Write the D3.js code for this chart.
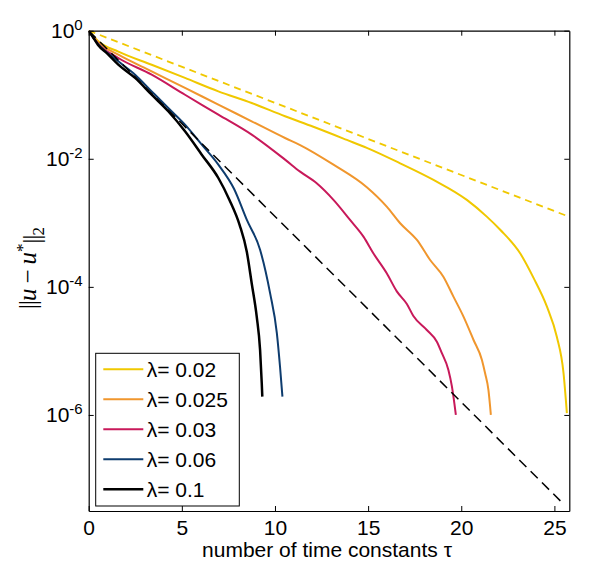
<!DOCTYPE html>
<html>
<head>
<meta charset="utf-8">
<script src="https://cdn.jsdelivr.net/npm/d3@7"></script>
<style>
  body { margin: 0; background: #fff; }
  svg { display: block; }
</style>
</head>
<body>
<svg class="decay" width="600" height="580"></svg>
<script>
// series: time in tau, error norm
const lambdas = ["0.02", "0.025", "0.03", "0.06", "0.1"];
const colors = ["#f0c800", "#f0962d", "#c8195a", "#0e3c6e", "#000000"];

const t002 = [0, 0.5, 1.59, 3.38, 5.17, 6.96, 8.75, 10.54, 12.06, 13.86, 14.93, 16.72, 18.51, 20.3, 21.37, 22.09, 23.16, 23.88, 24.6, 25.13, 25.49, 25.67];
const e002 = [1, 0.69, 0.47, 0.294, 0.183, 0.113, 0.0743, 0.0461, 0.0316, 0.0197, 0.0148, 0.0085, 0.00468, 0.00228, 0.00125, 7.8e-4, 3.35e-4, 1.38e-4, 4.9e-5, 1.66e-5, 4.5e-6, 1.07e-6];

const t0025 = [0, 0.5, 1.59, 3.38, 5.17, 6.96, 8.75, 10.54, 11.35, 13.14, 14.93, 16.0, 16.72, 17.62, 18.33, 19.04, 19.58, 20.12, 20.66, 21.11, 21.28, 21.46, 21.59];
const e0025 = [1, 0.66, 0.422, 0.232, 0.128, 0.07, 0.0385, 0.0211, 0.0164, 0.0081, 0.0036, 0.00179, 9.84e-4, 5.4e-4, 2.63e-4, 1.44e-4, 7.03e-5, 3.43e-5, 1.48e-5, 7.23e-6, 4.47e-6, 2.45e-6, 1.0e-6];

const t003 = [0, 0.5, 1.59, 3.38, 5.17, 6.96, 8.75, 10.54, 11.35, 12.24, 13.14, 14.03, 14.75, 15.28, 16.0, 16.54, 17.08, 17.43, 18.15, 18.69, 18.96, 19.31, 19.5, 19.63, 19.71];
const e003 = [1, 0.63, 0.375, 0.206, 0.1, 0.0489, 0.0238, 0.0097, 0.00629, 0.00414, 0.00228, 0.00111, 6.08e-4, 3.35e-4, 1.63e-4, 8.5e-5, 5.4e-5, 3.5e-5, 2.12e-5, 1.39e-5, 9.2e-6, 5.05e-6, 2.77e-6, 1.52e-6, 1.0e-6];

const t006 = [0, 0.5, 1.59, 2.49, 3.38, 4.27, 5.17, 6.07, 6.96, 7.8, 8.49, 9.2, 9.74, 10.1, 10.27, 10.4];
const e006 = [1, 0.62, 0.333, 0.206, 0.113, 0.0621, 0.0341, 0.0166, 0.0081, 0.0034, 0.00111, 3.8e-4, 7.9e-5, 1.9e-5, 5.7e-6, 1.93e-6];

const t01 = [0, 0.2, 0.5, 1.0, 1.59, 2.49, 3.38, 4.27, 5.17, 6.07, 6.96, 7.55, 8.1, 8.49, 8.75, 9.02, 9.2, 9.29, 9.32];
const e01 = [1, 0.82, 0.6, 0.438, 0.295, 0.183, 0.1, 0.0552, 0.0269, 0.0116, 0.00501, 0.0023, 9.3e-4, 3.5e-4, 1.14e-4, 3.43e-5, 1.04e-5, 3.13e-6, 1.93e-6];

// straight reference lines (dashed)
const refYellowT = [0, 25.8];
const refYellowE = [1, 1.24e-3];
const refBlackT = [0, 25.44];
const refBlackE = [1, 4.2e-8];

const xTicks = [0, 5, 10, 15, 20, 25];
const yTicks = [1, 1e-2, 1e-4, 1e-6];
const yExps = ["0", "-2", "-4", "-6"];

const series = [
  {t: t002, e: e002}, {t: t0025, e: e0025}, {t: t003, e: e003},
  {t: t006, e: e006}, {t: t01, e: e01}
];

const margin = {left: 88.7, top: 30.7, right: 30.7, bottom: 69};
const width = 600 - margin.left - margin.right;
const height = 580 - margin.top - margin.bottom;

const svg = d3.select('svg.decay');
const g = svg.append('g')
  .attr('transform', "translate(" + margin.left + "," + margin.top + ")");

const x = d3.scaleLinear().domain([0, 25.8]).range([0, width]);
const y = d3.scaleLog().domain([Math.pow(10, -7.5), 1]).range([height, 0]);

svg.append('defs').append('clipPath').attr('id', 'plotClip')
  .append('rect').attr('width', width).attr('height', height);

const line = d3.line()
  .x(d => x(d[0]))
  .y(d => y(d[1]))
  .curve(d3.curveMonotoneX);

function pairs(ts, es) {
  return ts.map((t, i) => [t, es[i]]);
}

const plot = g.append('g').attr('clip-path', 'url(#plotClip)');

series.forEach((s, i) => {
  plot.append('path')
    .attr('d', line(pairs(s.t, s.e)))
    .style('fill', 'none')
    .style('stroke', colors[i])
    .style('stroke-width', i === 4 ? 2.5 : 2)
    .style('stroke-linejoin', 'round');
});

plot.append('path')
  .attr('d', line(pairs(refYellowT, refYellowE)))
  .style('fill', 'none')
  .style('stroke', colors[0])
  .style('stroke-width', 1.8)
  .style('stroke-dasharray', '7,5');

plot.append('path')
  .attr('d', line(pairs(refBlackT, refBlackE)))
  .style('fill', 'none')
  .style('stroke', '#000')
  .style('stroke-width', 1.5)
  .style('stroke-dasharray', '10,6');

// axes, ticks pointing inwards on all four sides
const font = "'Liberation Sans', Arial, sans-serif";

const xAxis = g.append('g')
  .attr('transform', "translate(0," + height + ")")
  .call(d3.axisBottom(x).tickValues(xTicks).tickSizeInner(-5).tickSizeOuter(0).tickPadding(9));
g.append('g')
  .call(d3.axisTop(x).tickValues(xTicks).tickSizeInner(-5).tickSizeOuter(0).tickFormat(''));

const yAxis = g.append('g')
  .call(d3.axisLeft(y).tickValues(yTicks).tickSizeInner(-5).tickSizeOuter(0).tickPadding(6));
g.append('g')
  .attr('transform', "translate(" + width + ",0)")
  .call(d3.axisRight(y).tickValues(yTicks).tickSizeInner(-5).tickSizeOuter(0).tickFormat(''));

g.selectAll('.domain').style('stroke', '#000').style('stroke-width', 1.2);
g.selectAll('.tick line').style('stroke', '#000');

xAxis.selectAll('text')
  .style('font-family', font)
  .style('font-size', '21px')
  .style('fill', '#000');

yAxis.selectAll('.tick text')
  .attr('dy', '0.33em')
  .style('font-family', font)
  .style('font-size', '21px')
  .style('fill', '#000')
  .each(function(d, i) {
    const txt = d3.select(this).text(null);
    txt.append('tspan').text('10');
    txt.append('tspan')
      .attr('dy', '-0.55em')
      .style('font-size', '15px')
      .text(yExps[i]);
  });

// axis titles
svg.append('text')
  .attr('x', 327)
  .attr('y', 557)
  .attr('text-anchor', 'middle')
  .style('font-family', font)
  .style('font-size', '21px')
  .text('number of time constants τ');

const serif = "'Liberation Serif', 'Times New Roman', serif";
const ylab = svg.append('text')
  .attr('transform', 'translate(36,268) rotate(-90)')
  .attr('text-anchor', 'middle')
  .style('font-family', serif)
  .style('font-size', '25px');
ylab.append('tspan').style('letter-spacing', '-1px').text('||');
ylab.append('tspan').style('font-style', 'italic').text('u');
ylab.append('tspan').text('\u2009−\u2009');
ylab.append('tspan').style('font-style', 'italic').text('u');
ylab.append('tspan').attr('dy', '-0.45em').style('font-size', '17px').text('*');
ylab.append('tspan').attr('dy', '0.45em').style('letter-spacing', '-1px').text('||');
ylab.append('tspan').attr('dy', '0.25em').style('font-size', '17px').text('2');

// legend
const legend = svg.append('g').attr('transform', 'translate(95.7,353.3)');
legend.append('rect')
  .attr('width', 143.6)
  .attr('height', 152.7)
  .style('fill', '#fff')
  .style('stroke', '#000')
  .style('stroke-width', 1);

lambdas.forEach((lam, i) => {
  const row = legend.append('g').attr('transform', "translate(0," + (16 + i * 30) + ")");
  row.append('line')
    .attr('x1', 7.6).attr('x2', 47.6)
    .style('stroke', colors[i])
    .style('stroke-width', i === 4 ? 2.5 : 2);
  row.append('text')
    .attr('x', 51)
    .attr('dy', '0.36em')
    .style('font-family', font)
    .style('font-size', '21px')
    .text('λ= ' + lam);
});
</script>
</body>
</html>
